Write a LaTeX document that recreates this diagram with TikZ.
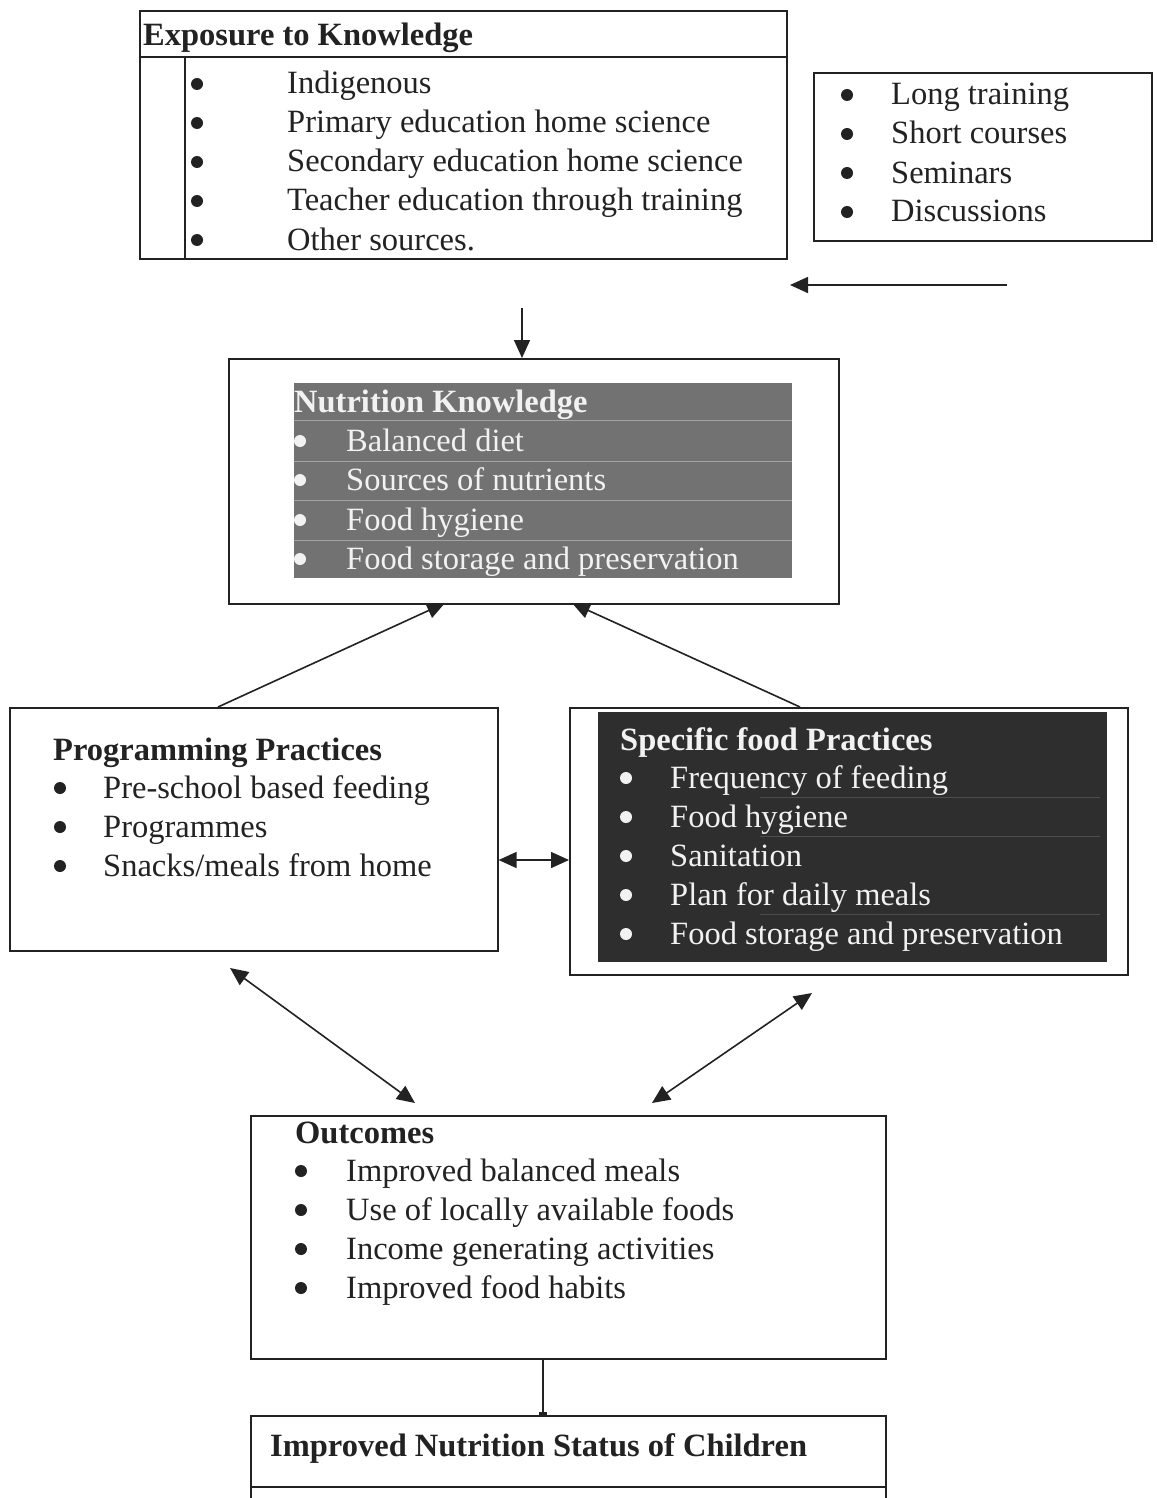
\documentclass[tikz,border=0pt]{standalone}
\usepackage{fontspec}
\setmainfont{Liberation Serif}
\usetikzlibrary{arrows.meta,calc}
\newcommand\myfs{\fontsize{32.5}{39}\selectfont}
\definecolor{inkc}{HTML}{222222}
\definecolor{midgray}{HTML}{727272}
\definecolor{darkbg}{HTML}{2E2E2E}
\definecolor{paleT}{HTML}{F2F2F2}
\tikzset{
  boxr/.style={draw=inkc, line width=1.6pt, fill=none},
  txt/.style={anchor=base west, inner sep=0pt, font=\myfs, text=inkc},
  ttl/.style={txt, font=\myfs\bfseries},
  wtxt/.style={txt, text=paleT},
  wttl/.style={ttl, text=paleT},
  dot/.style={circle, fill=inkc, inner sep=0pt, minimum size=12pt},
  wdot/.style={dot, fill=paleT},
  conn/.style={draw=inkc, line width=1.6pt, -{Triangle[width=16pt,length=18pt]}},
  dconn/.style={draw=inkc, line width=1.6pt, {Triangle[width=16pt,length=18pt]}-{Triangle[width=16pt,length=18pt]}},
}
\begin{document}
\begin{tikzpicture}[x=1pt,y=-1pt]
\useasboundingbox (0,0) rectangle (1156,1498);
\fill[white] (0,0) rectangle (1156,1498);

% ---- Exposure to Knowledge
\node[boxr, anchor=north west, minimum width=647pt, minimum height=248pt, inner sep=0pt] (exp) at (139,10) {};
\draw[inkc, line width=1.6pt] (139,57) -- (786,57);
\draw[inkc, line width=1.6pt] (185,57) -- (185,258);
\node[ttl] (expT) at (143,46) {Exposure to Knowledge};
\foreach \yy/\t [count=\i] in {94/Indigenous,133/Primary education home science,172/Secondary education home science,211/Teacher education through training,250/Other sources.}{
  \node[dot] (expB\i) at (197,\yy-10) {};
  \node[txt] (expI\i) at (287,\yy) {\t};
}

% ---- Training box
\node[boxr, anchor=north west, minimum width=338pt, minimum height=168pt, inner sep=0pt] (trn) at (813,72) {};
\foreach \yy/\t [count=\i] in {105/Long training,144/Short courses,183/Seminars,222/Discussions}{
  \node[dot] (trnB\i) at (847,\yy-10) {};
  \node[txt] (trnI\i) at (891,\yy) {\t};
}

% free arrow
\coordinate (trnArrowStart) at (1007,285);
\coordinate (trnArrowEnd) at (790,285);
\draw[conn] (trnArrowStart) -- (trnArrowEnd);

% ---- Nutrition Knowledge
\node[boxr, anchor=north west, minimum width=610pt, minimum height=245pt, inner sep=0pt] (nk) at (228,358) {};
\fill[midgray] (294,383) rectangle (792,578);
\foreach \yy in {420,461,500,540}{\draw[white, opacity=0.35, line width=0.8pt] (294,\yy) -- (792,\yy);}
\node[wttl] (nkT) at (294,412) {Nutrition Knowledge};
\foreach \yy/\t [count=\i] in {451/Balanced diet,490/Sources of nutrients,530/Food hygiene,569/Food storage and preservation}{
  \node[wdot] (nkB\i) at (300,\yy-10) {};
  \node[wtxt] (nkI\i) at (346,\yy) {\t};
}
\coordinate (expArrowStart) at (522,308);
\draw[conn] (expArrowStart) -- (nk.north -| expArrowStart);

% ---- Programming Practices
\node[boxr, anchor=north west, minimum width=488pt, minimum height=243pt, inner sep=0pt] (prog) at (9,707) {};
\node[ttl] (progT) at (53,760) {Programming Practices};
\node[dot] (progB1) at (60,788) {};
\node[txt] (progI1) at (103,798) {Pre-school based feeding};
\node[dot] (progB2) at (60,827) {};
\node[txt] (progI2) at (103,837) {Programmes};
\node[dot] (progB3) at (60,866) {};
\node[txt] (progI3) at (103,876) {Snacks/meals from home};

% ---- Specific food Practices
\node[boxr, anchor=north west, minimum width=558pt, minimum height=267pt, inner sep=0pt] (sfp) at (569,707) {};
\fill[darkbg] (598,712) rectangle (1107,962);
\foreach \yy in {797,836,914}{\draw[white, opacity=0.15, line width=0.6pt] (760,\yy) -- (1100,\yy);}
\node[wttl] (sfpT) at (620,750) {Specific food Practices};
\foreach \yy/\t [count=\i] in {788/Frequency of feeding,827/Food hygiene,866/Sanitation,905/Plan for daily meals,944/Food storage and preservation}{
  \node[wdot] (sfpB\i) at (626,\yy-10) {};
  \node[wtxt] (sfpI\i) at (670,\yy) {\t};
}

% arrows to Nutrition Knowledge
\coordinate (progTop) at (218,707);
\coordinate (nkL) at (445,603);
\coordinate (sfpTop) at (800,707);
\coordinate (nkR) at (572,603);
\draw[conn] (progTop) -- (nkL);
\draw[conn] (sfpTop) -- (nkR);
\draw[dconn] (prog.east |- 0,860) -- (sfp.west |- 0,860);

% ---- Outcomes
\node[boxr, anchor=north west, minimum width=635pt, minimum height=243pt, inner sep=0pt] (out) at (250,1115) {};
\node[ttl] (outT) at (295,1143) {Outcomes};
\foreach \yy/\t [count=\i] in {1181/Improved balanced meals,1220/Use of locally available foods,1259/Income generating activities,1298/Improved food habits}{
  \node[dot] (outB\i) at (301,\yy-10) {};
  \node[txt] (outI\i) at (346,\yy) {\t};
}
\coordinate (progLow) at (230,968);
\coordinate (outL) at (415,1103);
\coordinate (sfpLow) at (812,993);
\coordinate (outR) at (652,1103);
\draw[dconn] (progLow) -- (outL);
\draw[dconn] (sfpLow) -- (outR);

% ---- Improved Nutrition Status
\node[boxr, anchor=north west, minimum width=635pt, minimum height=110pt, inner sep=0pt] (ins) at (250,1415) {};
\draw[inkc, line width=1.6pt] (250,1487) -- (885,1487);
\node[ttl] (insT) at (270,1456) {Improved Nutrition Status of Children};
\draw[inkc, line width=1.6pt, -{Rectangle[width=8pt,length=3pt]}] (out.south -| 543,0) -- (ins.north -| 543,0);
\end{tikzpicture}
\end{document}
